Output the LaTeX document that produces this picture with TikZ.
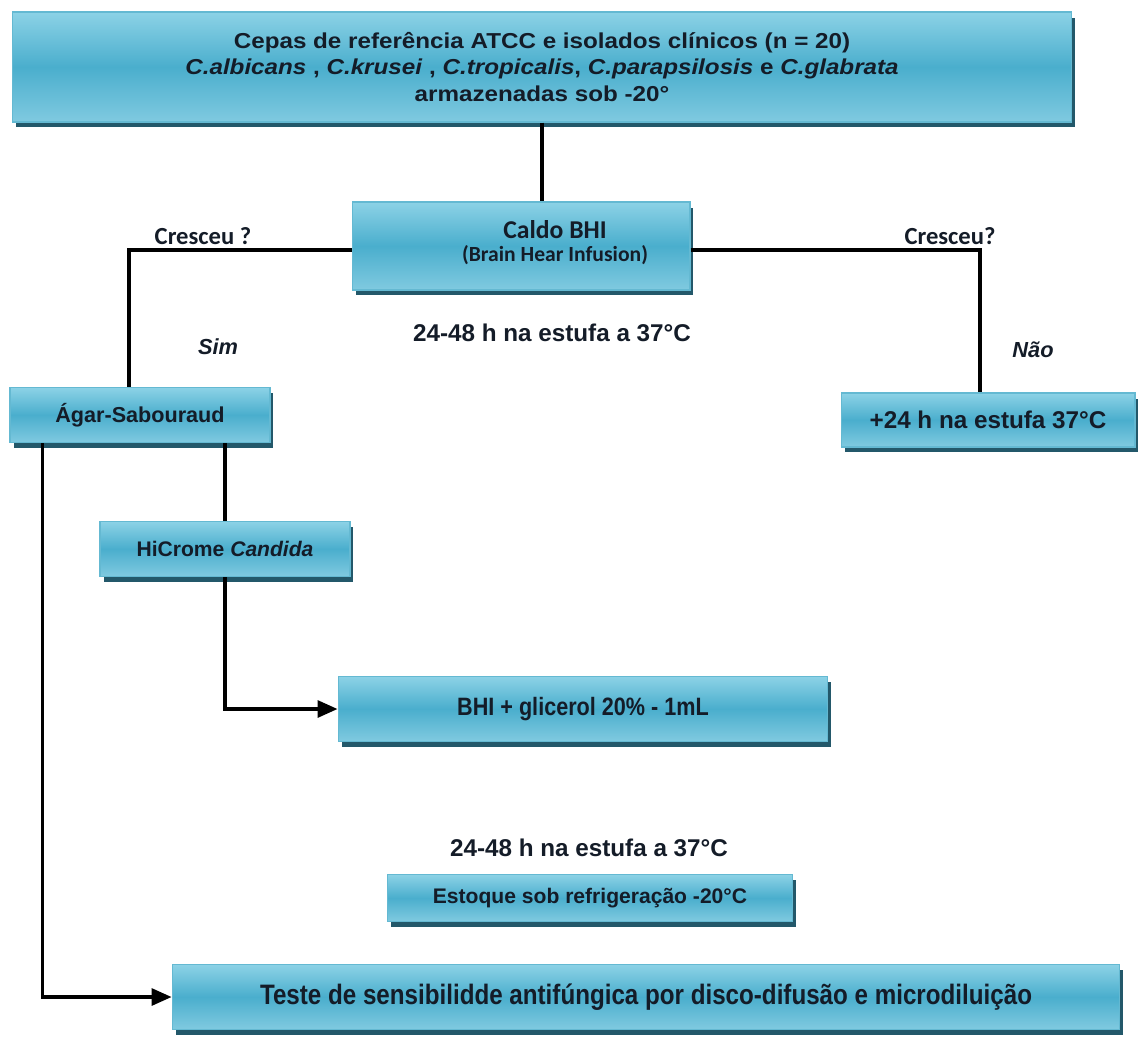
\documentclass[tikz,border=0pt]{standalone}
\usepackage{fontspec}
\setmainfont{Liberation Sans}
\newfontfamily\narrowfont[FakeStretch=0.86]{Liberation Sans}
\newfontfamily\widefont[FakeStretch=1.12]{Liberation Sans}
\newfontfamily\calfont{Carlito}
\usepackage{tikz}
\usetikzlibrary{arrows.meta, shadows, calc}
\definecolor{boxtop}{RGB}{140,210,230}
\definecolor{boxmid}{RGB}{74,174,205}
\definecolor{boxbot}{RGB}{128,202,224}
\definecolor{boxedge}{RGB}{100,185,210}
\definecolor{boxshadow}{RGB}{35,88,106}
\definecolor{txtdark}{RGB}{20,28,40}
\tikzset{
  block/.style={rectangle, draw=boxedge, line width=0.6pt,
    top color=boxtop, bottom color=boxbot, middle color=boxmid,
    drop shadow={shadow xshift=0.07cm, shadow yshift=-0.11cm,
      fill=boxshadow, opacity=1},
    align=center, inner sep=0pt, text=txtdark},
  lbl/.style={font=\bfseries, text=txtdark, inner sep=0pt},
  arrow/.style={-{Triangle[length=0.4cm, width=0.34cm]}, line width=1.8pt},
  line/.style={line width=1.8pt}
}

\begin{document}
\begin{tikzpicture}[x=0.02cm, y=-0.02cm]
  \useasboundingbox (0,0) rectangle (1141,1047);

  % Boxes
  \node[block, minimum width=21.2cm, minimum height=2.2cm,
    font=\widefont\bfseries\fontsize{12.3}{15.3}\selectfont] (top) at (542,67)
    {Cepas de referência ATCC e isolados clínicos (n = 20)\\
     \textit{C.albicans} , \textit{C.krusei} , \textit{C.tropicalis}, \textit{C.parapsilosis} e \textit{C.glabrata}\\
     armazenadas sob -20°};
  \node[block, minimum width=6.76cm, minimum height=1.76cm] (caldo) at (521,246) {};
  \node[lbl, align=center, font=\calfont\bfseries] (caldotxt) at (555,243)
    {{\fontsize{14.6}{16}\selectfont Caldo BHI}\\[1pt]
     {\fontsize{12.3}{14}\selectfont (Brain Hear Infusion)}};
  \node[block, minimum width=5.2cm, minimum height=1.1cm,
    font=\bfseries\fontsize{12.3}{14}\selectfont] (agar) at (140,415) {Ágar-Sabouraud};
  \node[block, minimum width=5.88cm, minimum height=1.08cm,
    font=\bfseries\fontsize{13.8}{16}\selectfont] (mais) at (988,420) {+24 h na estufa 37°C};
  \node[block, minimum width=5.0cm, minimum height=1.1cm,
    font=\bfseries\fontsize{12}{14}\selectfont] (hicrome) at (225,549) {HiCrome \textit{Candida}};
  \node[block, minimum width=9.8cm, minimum height=1.3cm,
    font=\narrowfont\bfseries\fontsize{14.3}{16}\selectfont] (glicerol) at (583,709) {BHI + glicerol 20\% - 1mL};
  \node[block, minimum width=8.1cm, minimum height=0.94cm,
    font=\bfseries\fontsize{12}{14}\selectfont] (estoque) at (590,898) {Estoque sob refrigeração -20°C};
  \node[block, minimum width=18.96cm, minimum height=1.3cm,
    font=\narrowfont\bfseries\fontsize{16}{18}\selectfont] (teste) at (646,997)
    {Teste de sensibilidde antifúngica por disco-difusão e microdiluição};

  % Labels
  \node[lbl, font=\calfont\bfseries\fontsize{14}{16}\selectfont] (cresc1) at (203,236) {Cresceu ?};
  \node[lbl, font=\calfont\bfseries\fontsize{14}{16}\selectfont] (cresc2) at (950,236) {Cresceu?};
  \node[lbl, font=\bfseries\itshape\fontsize{12.4}{14}\selectfont] (sim) at (218,347) {Sim};
  \node[lbl, font=\bfseries\itshape\fontsize{12.4}{14}\selectfont] (nao) at (1033,350) {Não};
  \node[lbl, font=\bfseries\fontsize{13.8}{16}\selectfont] (tempo1) at (552,333) {24-48 h na estufa a 37°C};
  \node[lbl, font=\bfseries\fontsize{13.8}{16}\selectfont] (tempo2) at (589,848) {24-48 h na estufa a 37°C};

  % Connections
  \draw[line] (top.south) -- (top.south |- caldo.north);
  \draw[line] ([yshift=-0.08cm]caldo.west) -| ([xshift=-0.22cm]agar.north);
  \draw[line] ([yshift=-0.08cm]caldo.east) -| ([xshift=-0.16cm]mais.north);
  \draw[line] (hicrome.north) -- (hicrome.north |- agar.south);
  \draw[arrow] (hicrome.south) |- (glicerol.west);
  \draw[arrow] ([xshift=0.66cm]agar.south west) |- (teste.west);
\end{tikzpicture}
\end{document}
